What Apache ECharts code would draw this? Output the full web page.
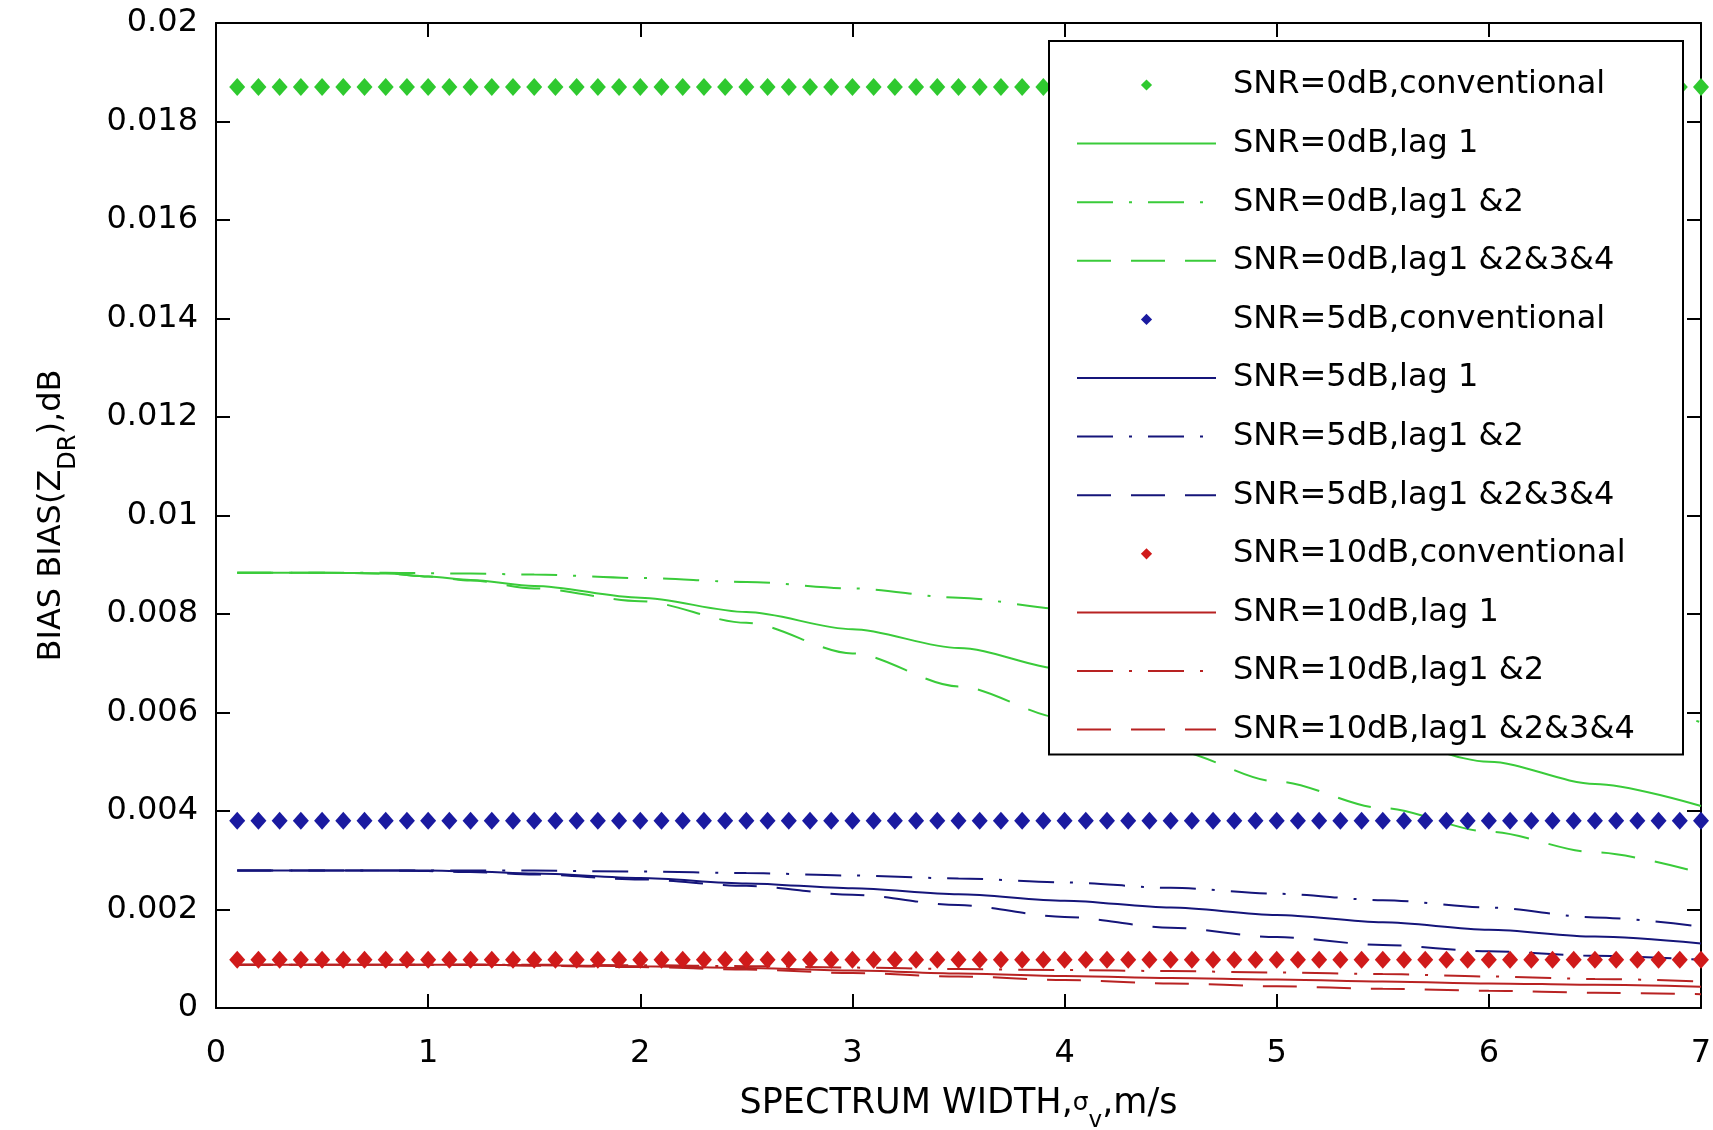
<!DOCTYPE html>
<html>
<head>
<meta charset="utf-8">
<script src="https://cdn.jsdelivr.net/npm/echarts@6/dist/echarts.min.js"></script>
<style>
html, body { margin: 0; padding: 0; background: #ffffff; }
#chart { width: 1713px; height: 1130px; }
</style>
</head>
<body>
<div id="chart"></div>
<script>
// Spectrum width samples for the conventional estimator (marker series)
const xMarks = [0.1,0.2,0.3,0.4,0.5,0.6,0.7,0.8,0.9,1.0,1.1,1.2,1.3,1.4,1.5,1.6,1.7,1.8,1.9,2.0,
  2.1,2.2,2.3,2.4,2.5,2.6,2.7,2.8,2.9,3.0,3.1,3.2,3.3,3.4,3.5,3.6,3.7,3.8,3.9,4.0,
  4.1,4.2,4.3,4.4,4.5,4.6,4.7,4.8,4.9,5.0,5.1,5.2,5.3,5.4,5.5,5.6,5.7,5.8,5.9,6.0,
  6.1,6.2,6.3,6.4,6.5,6.6,6.7,6.8,6.9,7.0];

// Conventional estimator bias (constant over spectrum width)
const conv0 = [0.0187,0.0187,0.0187,0.0187,0.0187,0.0187,0.0187,0.0187,0.0187,0.0187,
  0.0187,0.0187,0.0187,0.0187,0.0187,0.0187,0.0187,0.0187,0.0187,0.0187,
  0.0187,0.0187,0.0187,0.0187,0.0187,0.0187,0.0187,0.0187,0.0187,0.0187,
  0.0187,0.0187,0.0187,0.0187,0.0187,0.0187,0.0187,0.0187,0.0187,0.0187,
  0.0187,0.0187,0.0187,0.0187,0.0187,0.0187,0.0187,0.0187,0.0187,0.0187,
  0.0187,0.0187,0.0187,0.0187,0.0187,0.0187,0.0187,0.0187,0.0187,0.0187,
  0.0187,0.0187,0.0187,0.0187,0.0187,0.0187,0.0187,0.0187,0.0187,0.0187];
const conv5 = [0.0038,0.0038,0.0038,0.0038,0.0038,0.0038,0.0038,0.0038,0.0038,0.0038,
  0.0038,0.0038,0.0038,0.0038,0.0038,0.0038,0.0038,0.0038,0.0038,0.0038,
  0.0038,0.0038,0.0038,0.0038,0.0038,0.0038,0.0038,0.0038,0.0038,0.0038,
  0.0038,0.0038,0.0038,0.0038,0.0038,0.0038,0.0038,0.0038,0.0038,0.0038,
  0.0038,0.0038,0.0038,0.0038,0.0038,0.0038,0.0038,0.0038,0.0038,0.0038,
  0.0038,0.0038,0.0038,0.0038,0.0038,0.0038,0.0038,0.0038,0.0038,0.0038,
  0.0038,0.0038,0.0038,0.0038,0.0038,0.0038,0.0038,0.0038,0.0038,0.0038];
const conv10 = [0.00098,0.00098,0.00098,0.00098,0.00098,0.00098,0.00098,0.00098,0.00098,0.00098,
  0.00098,0.00098,0.00098,0.00098,0.00098,0.00098,0.00098,0.00098,0.00098,0.00098,
  0.00098,0.00098,0.00098,0.00098,0.00098,0.00098,0.00098,0.00098,0.00098,0.00098,
  0.00098,0.00098,0.00098,0.00098,0.00098,0.00098,0.00098,0.00098,0.00098,0.00098,
  0.00098,0.00098,0.00098,0.00098,0.00098,0.00098,0.00098,0.00098,0.00098,0.00098,
  0.00098,0.00098,0.00098,0.00098,0.00098,0.00098,0.00098,0.00098,0.00098,0.00098,
  0.00098,0.00098,0.00098,0.00098,0.00098,0.00098,0.00098,0.00098,0.00098,0.00098];

// Spectrum width samples for the lag-based estimators
const xLag = [0.1, 0.5, 0.8, 1.0, 1.2, 1.5, 2.0, 2.5, 3.0, 3.5, 4.0, 4.5, 5.0, 5.5, 6.0, 6.5, 7.0];

// SNR = 0 dB
const lag1_0    = [0.00884,0.00884,0.00882,0.00876,0.00869,0.00857,0.00833,0.00804,0.00769,0.00731,0.00688,0.00641,0.00594,0.00547,0.00500,0.00455,0.00410];
const lag12_0   = [0.00884,0.00884,0.00884,0.00883,0.00882,0.00880,0.00873,0.00865,0.00852,0.00833,0.00810,0.00782,0.00750,0.00714,0.00674,0.00630,0.00580];
const lag1234_0 = [0.00884,0.00884,0.00882,0.00876,0.00868,0.00852,0.00826,0.00782,0.00720,0.00653,0.00588,0.00524,0.00460,0.00406,0.00358,0.00316,0.00274];

// SNR = 5 dB
const lag1_5    = [0.00279,0.00279,0.00279,0.00279,0.00277,0.00273,0.00264,0.00253,0.00243,0.00231,0.00218,0.00204,0.00189,0.00174,0.00159,0.00145,0.00131];
const lag12_5   = [0.00279,0.00279,0.00279,0.00279,0.00279,0.00279,0.00277,0.00274,0.00269,0.00263,0.00255,0.00244,0.00232,0.00219,0.00204,0.00184,0.00165];
const lag1234_5 = [0.00279,0.00279,0.00279,0.00278,0.00276,0.00271,0.00261,0.00248,0.00230,0.00209,0.00185,0.00163,0.00144,0.00128,0.00115,0.00106,0.00098];

// SNR = 10 dB
const lag1_10    = [0.00088,0.00088,0.00088,0.00088,0.00088,0.00087,0.00085,0.00081,0.00076,0.00070,0.00065,0.00061,0.00058,0.00054,0.00050,0.00047,0.00043];
const lag12_10   = [0.00088,0.00088,0.00088,0.00088,0.00088,0.00088,0.00087,0.00085,0.00082,0.00079,0.00077,0.00075,0.00072,0.00069,0.00064,0.00059,0.00054];
const lag1234_10 = [0.00088,0.00088,0.00088,0.00088,0.00088,0.00086,0.00083,0.00078,0.00071,0.00064,0.00057,0.00050,0.00044,0.00039,0.00035,0.00031,0.00028];

// Axis ticks
const xTicks = { min: 0, max: 7, interval: 1 };
const yTicks = { min: 0, max: 0.02, interval: 0.002 };

const FONT = 'DejaVu Sans';
const GREEN = '#2fc92f', GREEN_LINE = '#3acb3a';
const BLUE = '#1a1aa0', BLUE_LINE = '#15157a';
const RED = '#d01a1a', RED_LINE = '#b82222';
const DASH = [34, 20];
const DASHDOT = [36, 16, 3, 16];

function pairs(xs, ys) { return xs.map((x, i) => [x, ys[i]]); }

function markerSeries(name, ys, color) {
  return {
    name, type: 'line', data: pairs(xMarks, ys),
    symbol: 'diamond', symbolSize: [16, 18], showSymbol: true, showAllSymbol: true,
    itemStyle: { color },
    lineStyle: { width: 0, opacity: 0 },
    clip: false, silent: true, z: 3
  };
}
function lagSeries(name, ys, color, type) {
  return {
    name, type: 'line', data: pairs(xLag, ys),
    symbol: 'none', smooth: 0.3, smoothMonotone: 'x',
    itemStyle: { color },
    lineStyle: { color, width: 2, type, cap: 'butt' },
    clip: true, silent: true, z: 2
  };
}

const series = [
  markerSeries('SNR=0dB,conventional', conv0, GREEN),
  lagSeries('SNR=0dB,lag 1', lag1_0, GREEN_LINE, 'solid'),
  lagSeries('SNR=0dB,lag1 &2', lag12_0, GREEN_LINE, DASHDOT),
  lagSeries('SNR=0dB,lag1 &2&3&4', lag1234_0, GREEN_LINE, DASH),
  markerSeries('SNR=5dB,conventional', conv5, BLUE),
  lagSeries('SNR=5dB,lag 1', lag1_5, BLUE_LINE, 'solid'),
  lagSeries('SNR=5dB,lag1 &2', lag12_5, BLUE_LINE, DASHDOT),
  lagSeries('SNR=5dB,lag1 &2&3&4', lag1234_5, BLUE_LINE, DASH),
  markerSeries('SNR=10dB,conventional', conv10, RED),
  lagSeries('SNR=10dB,lag 1', lag1_10, RED_LINE, 'solid'),
  lagSeries('SNR=10dB,lag1 &2', lag12_10, RED_LINE, DASHDOT),
  lagSeries('SNR=10dB,lag1 &2&3&4', lag1234_10, RED_LINE, DASH)
];

// Legend entries: line-only series show no centre symbol
const legendData = series.map(s => s.symbol === 'none'
  ? { name: s.name, itemStyle: { color: 'rgba(0,0,0,0)', opacity: 0, borderWidth: 0 } }
  : { name: s.name });

const axisLine = { show: true, onZero: false, lineStyle: { color: '#000', width: 2 } };
const tickIn = { show: true, inside: true, length: 14, lineStyle: { color: '#000', width: 2 } };
const labelFont = { fontFamily: FONT, fontSize: 32, color: '#000' };

const chart = echarts.init(document.getElementById('chart'), null, { renderer: 'canvas' });
chart.setOption({
  animation: false,
  backgroundColor: '#ffffff',
  grid: { left: 216, top: 23, width: 1485, height: 985, containLabel: false, outerBoundsMode: 'none' },
  xAxis: [
    {
      type: 'value', position: 'bottom', ...xTicks,
      axisLine, axisTick: tickIn, splitLine: { show: false },
      axisLabel: { ...labelFont, margin: 30, showMaxLabel: true, showMinLabel: true },
      name: 'SPECTRUM WIDTH,{sig|σ}{sub|v},m/s',
      nameLocation: 'middle', nameGap: 64,
      nameTextStyle: {
        fontFamily: FONT, fontSize: 35, color: '#000', lineHeight: 46,
        rich: {
          sig: { fontFamily: FONT, fontSize: 25, color: '#000', lineHeight: 46 },
          sub: { fontFamily: FONT, fontSize: 23, color: '#000', lineHeight: 58, verticalAlign: 'bottom' }
        }
      }
    },
    {
      type: 'value', position: 'top', ...xTicks,
      axisLine, axisTick: tickIn, axisLabel: { show: false }, splitLine: { show: false }
    }
  ],
  yAxis: [
    {
      type: 'value', position: 'left', ...yTicks,
      axisLine, axisTick: tickIn, splitLine: { show: false },
      axisLabel: { ...labelFont, margin: 18, formatter: v => String(+v.toFixed(4)) },
      name: 'BIAS BIAS(Z{sub|DR}),dB',
      nameLocation: 'middle', nameGap: 135,
      nameTextStyle: {
        fontFamily: FONT, fontSize: 32, color: '#000', lineHeight: 44,
        rich: {
          sub: { fontFamily: FONT, fontSize: 24, color: '#000', lineHeight: 58, verticalAlign: 'bottom' }
        }
      }
    },
    {
      type: 'value', position: 'right', ...yTicks,
      axisLine, axisTick: tickIn, axisLabel: { show: false }, splitLine: { show: false }
    }
  ],
  legend: {
    orient: 'vertical', left: 1049, top: 41,
    itemWidth: 139, itemHeight: 14, itemGap: 22.6,
    padding: [26, 21, 7, 27],
    backgroundColor: '#ffffff', borderColor: '#000', borderWidth: 2, borderRadius: 0,
    selectedMode: false,
    textStyle: { fontFamily: FONT, fontSize: 32, color: '#000', lineHeight: 36, width: 429, padding: [0, 0, 0, 12] },
    data: legendData
  },
  series
});
</script>
</body>
</html>
